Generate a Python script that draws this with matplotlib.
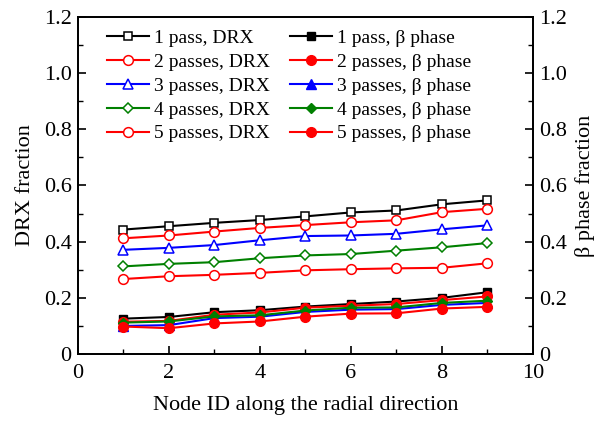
import matplotlib
matplotlib.use("Agg")
import matplotlib.pyplot as plt
from matplotlib.ticker import MultipleLocator, FuncFormatter

plt.rcParams['font.family'] = ['Liberation Serif', 'DejaVu Serif']
plt.rcParams['mathtext.fontset'] = 'stix'

node_id = [1, 2, 3, 4, 5, 6, 7, 8, 9]

drx_1 = [0.443, 0.455, 0.467, 0.477, 0.490, 0.504, 0.511, 0.533, 0.547]
drx_2 = [0.412, 0.422, 0.436, 0.449, 0.459, 0.469, 0.476, 0.505, 0.517]
drx_3 = [0.371, 0.378, 0.388, 0.405, 0.420, 0.422, 0.428, 0.444, 0.458]
drx_4 = [0.312, 0.321, 0.327, 0.341, 0.351, 0.356, 0.368, 0.380, 0.395]
drx_5 = [0.267, 0.277, 0.282, 0.289, 0.298, 0.302, 0.305, 0.307, 0.323]

beta_1 = [0.126, 0.132, 0.149, 0.156, 0.169, 0.178, 0.187, 0.200, 0.220]
beta_2 = [0.115, 0.118, 0.140, 0.148, 0.165, 0.172, 0.178, 0.192, 0.205]
beta_3 = [0.100, 0.103, 0.128, 0.133, 0.150, 0.158, 0.160, 0.175, 0.182]
beta_4 = [0.112, 0.116, 0.134, 0.138, 0.155, 0.165, 0.166, 0.182, 0.190]
beta_5 = [0.098, 0.092, 0.109, 0.116, 0.133, 0.144, 0.145, 0.162, 0.168]

labels = ['1 pass', '2 passes', '3 passes', '4 passes', '5 passes']
colors = ['black', 'red', 'blue', 'green', 'red']
markers = ['s', 'o', '^', 'D', 'o']
msizes = [6, 7, 7, 5.5, 7]

fig = plt.figure(figsize=(6.09, 4.22), dpi=100)
ax = fig.add_axes([0.128, 0.161, 0.747, 0.799])
ax2 = ax.twinx()

drx = [drx_1, drx_2, drx_3, drx_4, drx_5]
beta = [beta_1, beta_2, beta_3, beta_4, beta_5]

handles_drx = []
handles_beta = []
for lab, c, m, ms, d in zip(labels, colors, markers, msizes, drx):
    h, = ax.plot(node_id, d, color=c, marker=m, markersize=ms,
                 markerfacecolor='white', markeredgecolor=c, markeredgewidth=1.1,
                 linewidth=1.5, label=f'{lab}, DRX', zorder=3)
    handles_drx.append(h)
for lab, c, m, ms, b in zip(labels, colors, markers, msizes, beta):
    h, = ax2.plot(node_id, b, color=c, marker=m, markersize=ms,
                  markerfacecolor=c, markeredgecolor=c,
                  linewidth=1.5, label=f'{lab}, β phase', zorder=3)
    handles_beta.append(h)

fmt = FuncFormatter(lambda v, p: '0' if abs(v) < 1e-9 else f'{v:.1f}')
for a in (ax, ax2):
    a.set_ylim(0, 1.2)
    a.yaxis.set_major_locator(MultipleLocator(0.2))
    a.yaxis.set_minor_locator(MultipleLocator(0.1))
    a.yaxis.set_major_formatter(fmt)
    a.tick_params(axis='both', which='major', direction='in', length=6, width=1.2,
                  labelsize=16, pad=4.5)
    a.tick_params(axis='both', which='minor', direction='in', length=3.5, width=1.0)
    for s in a.spines.values():
        s.set_linewidth(1.3)

ax.set_xlim(0, 10)
ax.xaxis.set_major_locator(MultipleLocator(2))
ax.xaxis.set_minor_locator(MultipleLocator(1))
ax.tick_params(axis='x', which='major', pad=7.5)
ax.tick_params(top=False, which='both')

ax.set_xlabel('Node ID along the radial direction', fontsize=16, labelpad=9)
ax.set_ylabel('DRX fraction', fontsize=16, labelpad=6)
ax2.set_ylabel('β phase fraction', fontsize=16, labelpad=6)

leg_handles = handles_drx + handles_beta
ax.legend(leg_handles, [h.get_label() for h in leg_handles], ncol=2, loc='upper left',
          bbox_to_anchor=(0.035, 1.0), frameon=False, fontsize=14,
          handlelength=2.2, handletextpad=0.25, columnspacing=1.0, labelspacing=0.32,
          borderaxespad=0.25)

fig.savefig('out.png', dpi=100)
